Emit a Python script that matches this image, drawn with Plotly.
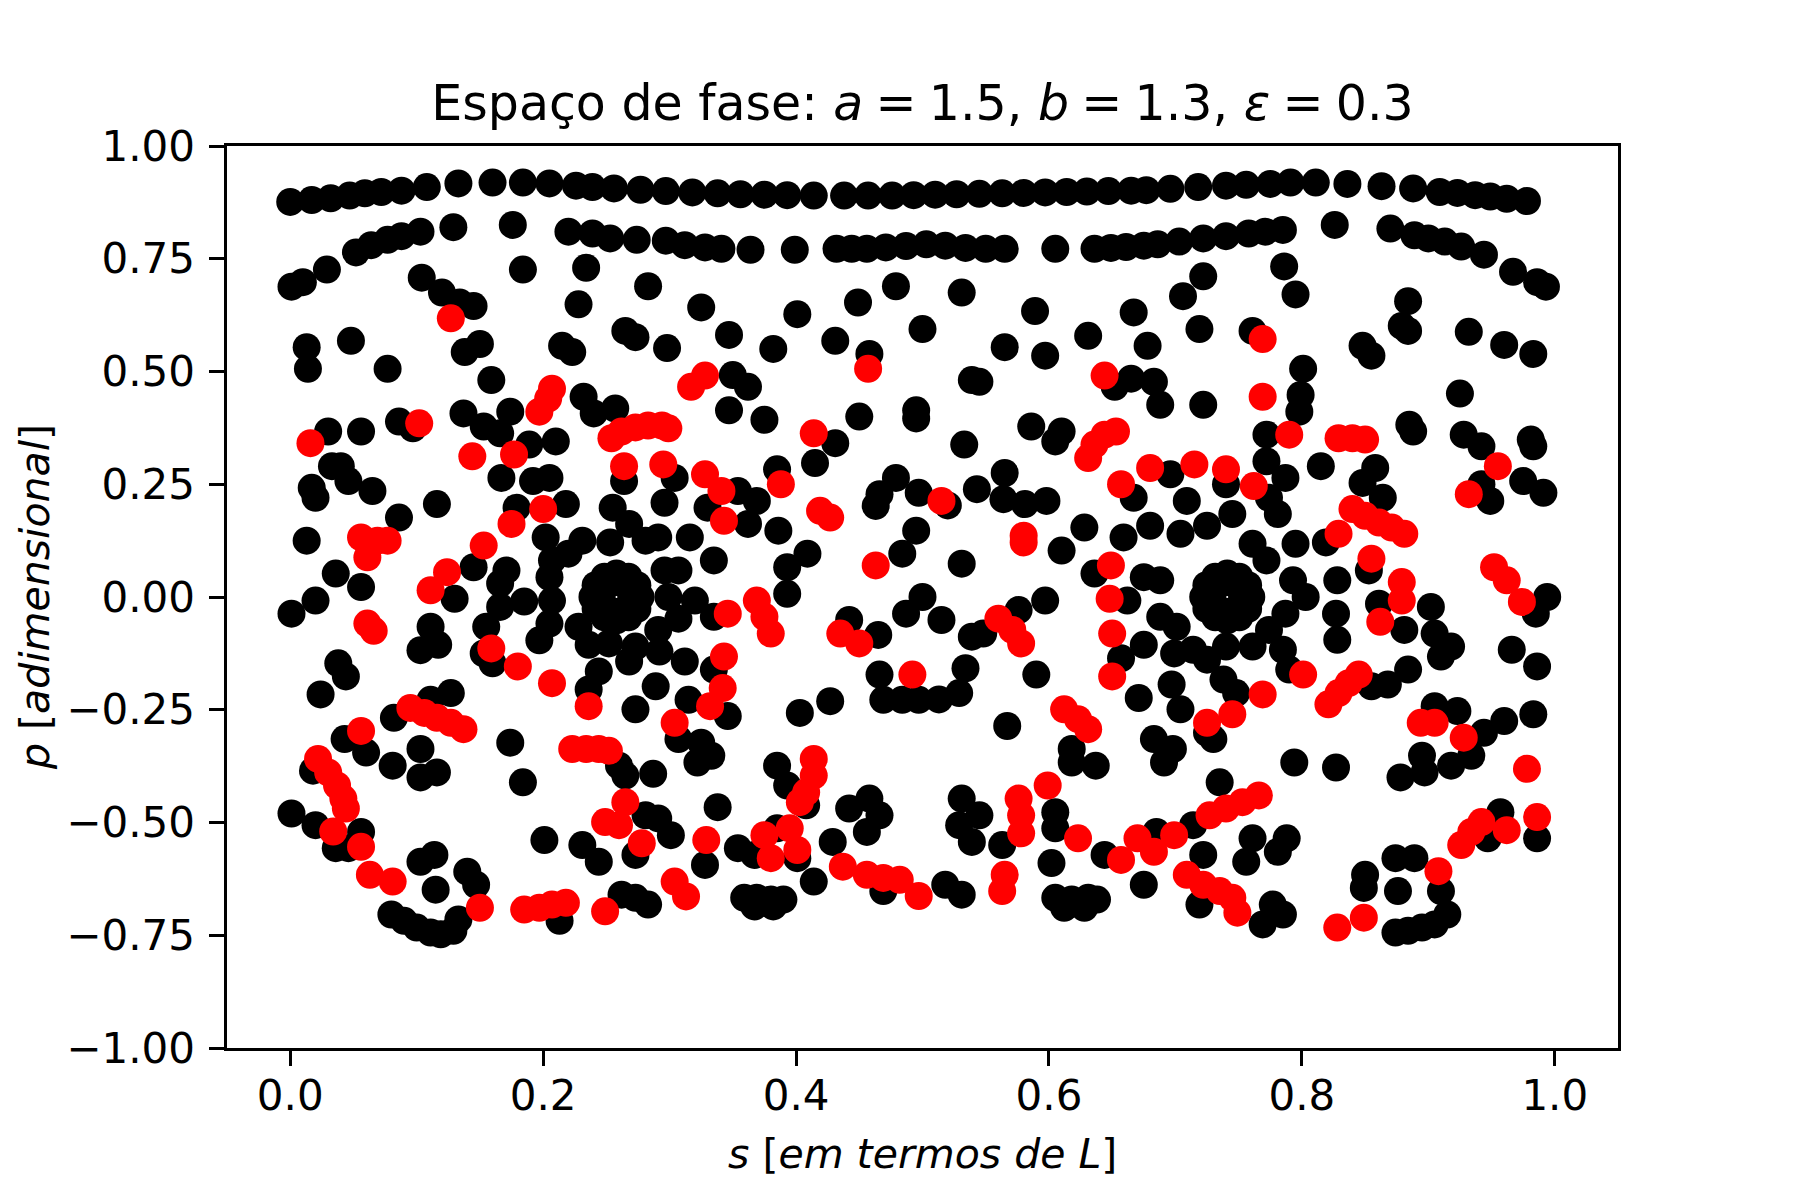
import plotly.graph_objects as go

# --- data (s, p) ---

# top chain of black points
top_s = [0.0, 0.017, 0.032, 0.047, 0.059, 0.072, 0.088, 0.108, 0.133, 0.16,
         0.184, 0.205, 0.226, 0.239, 0.256, 0.277, 0.297, 0.318, 0.338, 0.356,
         0.375, 0.393, 0.414, 0.438, 0.457, 0.476, 0.493, 0.51, 0.527, 0.545,
         0.563, 0.58, 0.597, 0.614, 0.63, 0.647, 0.665, 0.677, 0.696, 0.718,
         0.74, 0.756, 0.775, 0.791, 0.811, 0.836, 0.863, 0.888, 0.909, 0.923,
         0.937, 0.949, 0.962, 0.978]
top_p = [0.876, 0.88, 0.884, 0.89, 0.895, 0.898, 0.901, 0.909, 0.917, 0.919,
         0.919, 0.917, 0.912, 0.909, 0.906, 0.903, 0.9, 0.897, 0.895, 0.893,
         0.892, 0.891, 0.89, 0.89, 0.89, 0.89, 0.891, 0.892, 0.893, 0.894,
         0.895, 0.896, 0.897, 0.898, 0.899, 0.9, 0.901, 0.902, 0.905, 0.909,
         0.912, 0.914, 0.916, 0.919, 0.919, 0.916, 0.911, 0.906, 0.898, 0.896,
         0.891, 0.888, 0.883, 0.878]

# second chain of black points
second_s = [0.001, 0.010, 0.029, 0.052, 0.064, 0.077, 0.088, 0.103, 0.129, 0.176,
            0.22, 0.239, 0.253, 0.274, 0.297, 0.312, 0.328, 0.341, 0.364, 0.399,
            0.432, 0.444, 0.456, 0.471, 0.487, 0.503, 0.518, 0.534, 0.55, 0.565,
            0.605, 0.636, 0.649, 0.661, 0.675, 0.686, 0.703, 0.722, 0.74, 0.758,
            0.771, 0.785, 0.826, 0.87, 0.889, 0.9, 0.913, 0.926, 0.944, 0.967,
            0.986, 0.993]
second_p = [0.688, 0.698, 0.726, 0.764, 0.78, 0.792, 0.80, 0.81, 0.82, 0.825,
            0.81, 0.806, 0.795, 0.792, 0.79, 0.78, 0.775, 0.772, 0.77, 0.77,
            0.772, 0.772, 0.772, 0.775, 0.778, 0.782, 0.779, 0.774, 0.772, 0.772,
            0.772, 0.772, 0.774, 0.776, 0.779, 0.782, 0.788, 0.795, 0.80, 0.806,
            0.81, 0.814, 0.825, 0.817, 0.802, 0.795, 0.788, 0.777, 0.759, 0.721,
            0.698, 0.688]

# the two small islands around p = 0 (outer loop + inner loop each)
ring_s = [0.277, 0.2745, 0.2675, 0.258, 0.2485, 0.2415, 0.239, 0.2415, 0.2485, 0.258,
          0.2675, 0.2745,
          0.270, 0.2665, 0.258, 0.2495, 0.246, 0.2495, 0.258, 0.2665,
          0.760, 0.7575, 0.7505, 0.741, 0.7315, 0.7245, 0.722, 0.7245, 0.7315, 0.741,
          0.7505, 0.7575,
          0.753, 0.7495, 0.741, 0.7325, 0.729, 0.7325, 0.741, 0.7495]
ring_p = [0.0, 0.026, 0.045, 0.052, 0.045, 0.026, 0.0, -0.026, -0.045, -0.052,
          -0.045, -0.026,
          0.0, 0.023, 0.033, 0.023, 0.0, -0.023, -0.033, -0.023,
          0.0, 0.026, 0.045, 0.052, 0.045, 0.026, 0.0, -0.026, -0.045, -0.052,
          -0.045, -0.026,
          0.0, 0.023, 0.033, 0.023, 0.0, -0.023, -0.033, -0.023]

# scattered black points, upper half
black_upper = [
    (0.104, 0.708), (0.120, 0.675), (0.134, 0.653), (0.145, 0.645), (0.138, 0.543),
    (0.150, 0.561), (0.013, 0.554), (0.014, 0.506), (0.048, 0.568), (0.077, 0.506),
    (0.159, 0.481), (0.184, 0.726), (0.215, 0.557), (0.223, 0.543), (0.137, 0.407),
    (0.153, 0.378), (0.166, 0.363), (0.174, 0.411), (0.189, 0.338), (0.210, 0.345),
    (0.086, 0.389), (0.097, 0.374), (0.030, 0.367), (0.056, 0.367), (0.033, 0.290),
    (0.040, 0.290), (0.046, 0.257), (0.065, 0.235), (0.020, 0.220), (0.017, 0.242),
    (0.013, 0.125), (0.036, 0.052), (0.056, 0.022), (0.086, 0.176), (0.116, 0.206),
    (0.145, 0.066), (0.171, 0.059), (0.202, 0.132), (0.207, 0.081), (0.205, 0.044),
    (0.220, 0.096), (0.179, 0.198), (0.218, 0.206), (0.167, 0.264), (0.192, 0.257),
    (0.205, 0.264), (0.166, 0.030),
    (0.234, 0.730), (0.283, 0.689), (0.228, 0.649), (0.325, 0.642), (0.401, 0.627),
    (0.479, 0.689), (0.449, 0.653), (0.265, 0.590), (0.273, 0.576), (0.298, 0.552),
    (0.347, 0.581), (0.382, 0.550), (0.431, 0.568), (0.458, 0.539), (0.500, 0.594),
    (0.232, 0.444), (0.240, 0.407), (0.257, 0.418), (0.350, 0.492), (0.362, 0.466),
    (0.347, 0.414), (0.375, 0.393), (0.450, 0.400), (0.495, 0.414), (0.495, 0.396),
    (0.264, 0.257), (0.304, 0.264), (0.354, 0.235), (0.369, 0.213), (0.362, 0.162),
    (0.330, 0.198), (0.386, 0.147), (0.296, 0.209), (0.255, 0.198), (0.268, 0.162),
    (0.281, 0.125), (0.291, 0.132), (0.316, 0.132), (0.253, 0.121), (0.231, 0.125),
    (0.335, 0.081), (0.296, 0.059), (0.307, 0.059), (0.385, 0.283), (0.415, 0.297),
    (0.431, 0.341), (0.463, 0.202), (0.466, 0.228), (0.479, 0.264), (0.497, 0.231),
    (0.495, 0.147), (0.484, 0.096), (0.409, 0.096), (0.393, 0.066),
    (0.531, 0.675), (0.589, 0.634), (0.667, 0.631), (0.722, 0.711), (0.706, 0.667),
    (0.719, 0.594), (0.565, 0.554), (0.597, 0.535), (0.631, 0.579), (0.678, 0.557),
    (0.761, 0.590), (0.539, 0.481), (0.545, 0.477), (0.665, 0.484), (0.683, 0.477),
    (0.688, 0.426), (0.652, 0.466), (0.722, 0.426), (0.772, 0.360), (0.586, 0.378),
    (0.610, 0.367), (0.605, 0.345), (0.533, 0.338), (0.520, 0.203), (0.543, 0.239),
    (0.565, 0.275), (0.564, 0.217), (0.581, 0.206), (0.598, 0.213), (0.531, 0.074),
    (0.610, 0.103), (0.628, 0.154), (0.659, 0.132), (0.667, 0.220), (0.680, 0.158),
    (0.696, 0.272), (0.709, 0.213), (0.704, 0.140), (0.725, 0.158), (0.740, 0.250),
    (0.745, 0.184), (0.761, 0.118), (0.675, 0.044), (0.636, 0.052), (0.772, 0.301),
    (0.774, 0.220), (0.772, 0.081), (0.688, 0.037),
    (0.786, 0.733), (0.795, 0.671), (0.884, 0.656), (0.879, 0.601), (0.884, 0.590),
    (0.848, 0.557), (0.855, 0.535), (0.932, 0.588), (0.960, 0.559), (0.983, 0.539),
    (0.801, 0.506), (0.799, 0.448), (0.798, 0.411), (0.925, 0.451), (0.885, 0.382),
    (0.888, 0.367), (0.928, 0.360), (0.942, 0.334), (0.981, 0.349), (0.983, 0.334),
    (0.975, 0.257), (0.991, 0.231), (0.949, 0.213), (0.942, 0.250), (0.815, 0.290),
    (0.858, 0.286), (0.848, 0.253), (0.864, 0.220), (0.787, 0.264), (0.781, 0.184),
    (0.795, 0.118), (0.819, 0.121), (0.828, 0.037), (0.853, 0.059), (0.793, 0.037),
]

# scattered black points, lower half
black_lower = [
    (0.001, -0.037), (0.020, -0.008), (0.130, -0.004), (0.166, -0.022), (0.111, -0.066),
    (0.103, -0.118), (0.117, -0.106), (0.155, -0.066), (0.153, -0.125), (0.160, -0.147),
    (0.197, -0.096), (0.205, -0.059), (0.207, -0.008), (0.038, -0.147), (0.044, -0.176),
    (0.024, -0.216), (0.082, -0.268), (0.111, -0.228), (0.127, -0.213), (0.043, -0.315),
    (0.060, -0.345), (0.081, -0.374), (0.103, -0.337), (0.103, -0.400), (0.116, -0.389),
    (0.174, -0.323), (0.184, -0.411), (0.018, -0.385), (0.001, -0.480), (0.020, -0.506),
    (0.036, -0.557), (0.046, -0.557), (0.056, -0.521), (0.103, -0.587), (0.114, -0.572),
    (0.115, -0.649), (0.140, -0.609), (0.147, -0.638), (0.080, -0.704), (0.090, -0.718),
    (0.100, -0.733), (0.111, -0.744), (0.119, -0.748), (0.129, -0.740), (0.133, -0.715),
    (0.201, -0.539), (0.213, -0.718), (0.185, -0.010),
    (0.299, 0.0), (0.320, -0.008), (0.335, -0.044), (0.307, -0.048), (0.291, -0.073),
    (0.228, -0.066), (0.236, -0.106), (0.252, -0.103), (0.273, -0.110), (0.292, -0.121),
    (0.268, -0.143), (0.312, -0.143), (0.244, -0.165), (0.236, -0.205), (0.289, -0.198),
    (0.273, -0.249), (0.315, -0.228), (0.335, -0.161), (0.346, -0.264), (0.307, -0.315),
    (0.325, -0.323), (0.322, -0.367), (0.333, -0.352), (0.260, -0.374), (0.265, -0.396),
    (0.287, -0.392), (0.385, -0.374), (0.393, -0.418), (0.338, -0.466), (0.281, -0.484),
    (0.291, -0.491), (0.301, -0.528), (0.231, -0.550), (0.244, -0.587), (0.273, -0.572),
    (0.328, -0.594), (0.354, -0.557), (0.367, -0.572), (0.401, -0.579), (0.414, -0.631),
    (0.408, -0.462), (0.385, -0.513), (0.262, -0.660), (0.273, -0.667), (0.283, -0.682),
    (0.359, -0.667), (0.369, -0.667), (0.380, -0.671), (0.390, -0.671), (0.367, -0.686),
    (0.382, -0.686), (0.403, -0.257), (0.427, -0.231), (0.442, -0.051), (0.465, -0.084),
    (0.487, -0.037), (0.466, -0.172), (0.469, -0.228), (0.484, -0.228), (0.497, -0.228),
    (0.442, -0.469), (0.458, -0.447), (0.466, -0.484), (0.456, -0.521), (0.429, -0.543),
    (0.469, -0.652), (0.393, 0.007),
    (0.500, 0.0), (0.515, -0.051), (0.539, -0.088), (0.548, -0.081), (0.576, -0.029),
    (0.597, -0.008), (0.534, -0.158), (0.513, -0.227), (0.529, -0.213), (0.590, -0.172),
    (0.567, -0.286), (0.618, -0.337), (0.618, -0.367), (0.637, -0.374), (0.531, -0.447),
    (0.545, -0.484), (0.529, -0.506), (0.539, -0.543), (0.563, -0.550), (0.605, -0.477),
    (0.605, -0.513), (0.602, -0.590), (0.518, -0.638), (0.531, -0.660), (0.605, -0.667),
    (0.618, -0.671), (0.631, -0.667), (0.638, -0.671), (0.612, -0.689), (0.628, -0.689),
    (0.662, -0.008), (0.688, -0.044), (0.701, -0.066), (0.675, -0.106), (0.657, -0.136),
    (0.699, -0.125), (0.714, -0.117), (0.725, -0.139), (0.740, -0.110), (0.761, -0.110),
    (0.738, -0.183), (0.748, -0.213), (0.697, -0.194), (0.671, -0.224), (0.704, -0.249),
    (0.725, -0.301), (0.730, -0.315), (0.683, -0.315), (0.698, -0.337), (0.691, -0.367),
    (0.735, -0.411), (0.714, -0.506), (0.685, -0.521), (0.644, -0.572), (0.675, -0.638),
    (0.761, -0.535), (0.756, -0.587), (0.722, -0.572), (0.719, -0.682), (0.769, -0.726),
    (0.777, -0.682),
    (0.803, 0.0), (0.787, -0.037), (0.827, -0.037), (0.828, -0.095), (0.861, -0.015),
    (0.881, -0.073), (0.902, -0.022), (0.905, -0.081), (0.918, -0.110), (0.910, -0.132),
    (0.994, 0.0), (0.985, -0.037), (0.966, -0.117), (0.986, -0.154), (0.774, -0.073),
    (0.785, -0.117), (0.790, -0.161), (0.855, -0.198), (0.868, -0.194), (0.884, -0.161),
    (0.905, -0.242), (0.923, -0.253), (0.960, -0.275), (0.983, -0.260), (0.944, -0.301),
    (0.934, -0.352), (0.895, -0.352), (0.897, -0.389), (0.878, -0.400), (0.918, -0.374),
    (0.794, -0.367), (0.827, -0.378), (0.788, -0.535), (0.781, -0.565), (0.957, -0.477),
    (0.947, -0.535), (0.986, -0.535), (0.874, -0.579), (0.889, -0.579), (0.876, -0.652),
    (0.850, -0.616), (0.849, -0.645), (0.910, -0.652), (0.915, -0.704), (0.874, -0.744),
    (0.884, -0.740), (0.895, -0.733), (0.905, -0.726), (0.785, -0.704),
]

# red orbit
red_upper = [
    (0.127, 0.618), (0.102, 0.385), (0.016, 0.341), (0.144, 0.312), (0.177, 0.316),
    (0.197, 0.411), (0.204, 0.440), (0.207, 0.462), (0.200, 0.195), (0.153, 0.114),
    (0.175, 0.162), (0.124, 0.055), (0.111, 0.015), (0.056, 0.132), (0.069, 0.125),
    (0.061, 0.088), (0.077, 0.125),
    (0.328, 0.491), (0.317, 0.466), (0.457, 0.506), (0.254, 0.352), (0.262, 0.367),
    (0.273, 0.376), (0.283, 0.380), (0.294, 0.380), (0.299, 0.374), (0.264, 0.290),
    (0.295, 0.294), (0.328, 0.272), (0.341, 0.235), (0.343, 0.169), (0.388, 0.250),
    (0.414, 0.363), (0.419, 0.191), (0.427, 0.176), (0.463, 0.070),
    (0.769, 0.572), (0.769, 0.444), (0.644, 0.491), (0.631, 0.308), (0.636, 0.338),
    (0.644, 0.360), (0.653, 0.367), (0.657, 0.250), (0.680, 0.286), (0.715, 0.294),
    (0.740, 0.283), (0.762, 0.246), (0.515, 0.213), (0.580, 0.136), (0.580, 0.121),
    (0.649, 0.070),
    (0.790, 0.360), (0.829, 0.352), (0.840, 0.352), (0.850, 0.349), (0.840, 0.195),
    (0.850, 0.180), (0.861, 0.165), (0.871, 0.154), (0.881, 0.140), (0.829, 0.140),
    (0.855, 0.085), (0.879, 0.033), (0.952, 0.066), (0.962, 0.037), (0.955, 0.290),
    (0.932, 0.228),
]
red_lower = [
    (0.061, -0.059), (0.066, -0.075), (0.159, -0.114), (0.180, -0.154), (0.207, -0.191),
    (0.095, -0.246), (0.106, -0.257), (0.116, -0.268), (0.127, -0.279), (0.137, -0.293),
    (0.056, -0.297), (0.022, -0.359), (0.030, -0.389), (0.037, -0.418), (0.042, -0.447),
    (0.044, -0.469), (0.034, -0.520), (0.056, -0.554), (0.063, -0.616), (0.081, -0.631),
    (0.150, -0.689), (0.185, -0.693), (0.197, -0.689), (0.207, -0.682), (0.218, -0.678),
    (0.346, -0.037), (0.369, -0.008), (0.375, -0.044), (0.380, -0.081), (0.343, -0.132),
    (0.342, -0.202), (0.332, -0.242), (0.304, -0.279), (0.236, -0.242), (0.223, -0.337),
    (0.234, -0.337), (0.244, -0.337), (0.252, -0.341), (0.265, -0.455), (0.249, -0.499),
    (0.260, -0.506), (0.278, -0.546), (0.329, -0.539), (0.304, -0.631), (0.313, -0.664),
    (0.249, -0.697), (0.414, -0.359), (0.414, -0.396), (0.408, -0.433), (0.403, -0.455),
    (0.375, -0.528), (0.380, -0.579), (0.395, -0.513), (0.401, -0.561), (0.437, -0.598),
    (0.456, -0.616), (0.469, -0.623), (0.482, -0.627), (0.497, -0.663), (0.435, -0.081),
    (0.450, -0.103), (0.492, -0.172),
    (0.648, -0.004), (0.650, -0.081), (0.650, -0.176), (0.560, -0.048), (0.571, -0.073),
    (0.578, -0.103), (0.612, -0.249), (0.623, -0.271), (0.631, -0.293), (0.725, -0.279),
    (0.745, -0.260), (0.769, -0.216), (0.599, -0.418), (0.576, -0.447), (0.578, -0.484),
    (0.578, -0.524), (0.623, -0.535), (0.565, -0.616), (0.563, -0.652), (0.670, -0.535),
    (0.657, -0.583), (0.683, -0.565), (0.699, -0.528), (0.727, -0.484), (0.740, -0.469),
    (0.753, -0.455), (0.766, -0.440), (0.709, -0.616), (0.722, -0.638), (0.735, -0.652),
    (0.745, -0.667), (0.749, -0.700),
    (0.879, -0.008), (0.862, -0.055), (0.974, -0.011), (0.801, -0.172), (0.821, -0.238),
    (0.829, -0.213), (0.837, -0.191), (0.845, -0.172), (0.894, -0.279), (0.905, -0.279),
    (0.928, -0.312), (0.978, -0.381), (0.986, -0.488), (0.962, -0.517), (0.926, -0.550),
    (0.934, -0.521), (0.942, -0.499), (0.908, -0.608), (0.849, -0.711), (0.828, -0.733),
]

x_ticks = [0.0, 0.2, 0.4, 0.6, 0.8, 1.0]
y_ticks = [-1.0, -0.75, -0.5, -0.25, 0.0, 0.25, 0.5, 0.75, 1.0]

# junta tudo
bs = top_s + second_s + ring_s + [q[0] for q in black_upper + black_lower]
bp = top_p + second_p + ring_p + [q[1] for q in black_upper + black_lower]
rs = [q[0] for q in red_upper + red_lower]
rp = [q[1] for q in red_upper + red_lower]

FONT = "DejaVu Sans"
MSIZE = 28
SP = "\u2005"  # espaco estreito em volta do "="

fig = go.Figure()
fig.add_trace(go.Scatter(x=bs, y=bp, mode="markers", hoverinfo="skip",
                         marker=dict(color="black", size=MSIZE, line=dict(width=0))))
fig.add_trace(go.Scatter(x=rs, y=rp, mode="markers", hoverinfo="skip",
                         marker=dict(color="red", size=MSIZE, line=dict(width=0))))

axis_common = dict(
    showgrid=False, zeroline=False,
    showline=True, linecolor="black", linewidth=3.3, mirror=True,
    ticks="outside", ticklen=14.5, tickwidth=3.3, tickcolor="black",
    tickfont=dict(family=FONT, size=42, color="black"),
)

title_txt = (f"Espaço de fase: <i>a</i>{SP}={SP}1.5, <i>b</i>{SP}={SP}1.3, "
             f"<i>ε</i>{SP}={SP}0.3")

fig.update_layout(
    width=1800, height=1200,
    margin=dict(l=218.65, r=189.65, t=137.65, b=159.65),
    paper_bgcolor="white", plot_bgcolor="white",
    showlegend=False,
    font=dict(family=FONT, color="black"),
    title=dict(
        text=title_txt,
        font=dict(family=FONT, size=49, color="black"),
        x=0.5, xref="paper", xanchor="center",
        y=0.9065, yref="container", yanchor="bottom",
    ),
    xaxis=dict(range=[-0.05, 1.05], tickvals=x_ticks, tickformat=".1f",
               ticklabelstandoff=-6, **axis_common),
    yaxis=dict(range=[-1.0, 1.0], tickvals=y_ticks, tickformat=".2f",
               ticklabelstandoff=6, **axis_common),
    annotations=[
        dict(text="<i>s</i> [<i>em termos de L</i>]", x=0.5, xref="paper",
             y=-0.117, yref="paper", yanchor="middle", showarrow=False,
             font=dict(family=FONT, size=41, color="black")),
        dict(text="<i>p</i> [<i>adimensional</i>]", x=-0.138, xref="paper",
             y=0.5, yref="paper", xanchor="center", yanchor="middle",
             textangle=-90, showarrow=False,
             font=dict(family=FONT, size=41, color="black")),
    ],
)

fig.write_html("out.html")
